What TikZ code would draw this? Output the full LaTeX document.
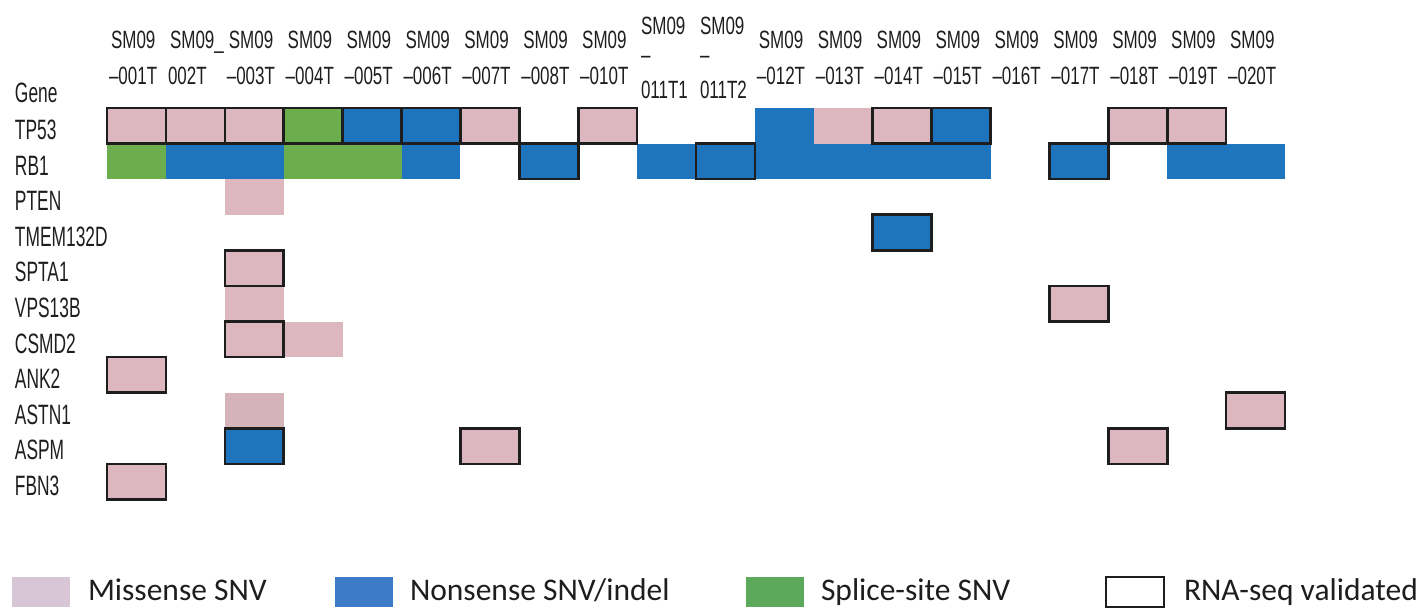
\documentclass[tikz,border=0pt]{standalone}
\usepackage{fontspec}
\setmainfont{Liberation Sans}
\newfontfamily\narrowfont[FakeStretch=0.68]{Liberation Sans}
\newfontfamily\labelfont[FakeStretch=0.62]{Liberation Sans}
\newfontfamily\legendfont{Carlito}
\definecolor{mis}{HTML}{DCB7C0}
\definecolor{nons}{HTML}{1E74BD}
\definecolor{spl}{HTML}{6CAE4E}
\definecolor{legmis}{HTML}{D8C6D6}
\definecolor{legnons}{HTML}{3B7BC8}
\definecolor{legspl}{HTML}{5DA95C}
\definecolor{ink}{HTML}{1E1E1E}

\begin{document}
\begin{tikzpicture}[x=1pt,y=-1pt,
  slot/.style 2 args={at={({77.55+58.9*#1},{90.2+35.6*#2})}}]
\tikzstyle{every node}=[inner sep=0pt,outer sep=0pt,text=ink]
\tikzstyle{cell}=[rectangle,minimum width=58.9pt,minimum height=35.6pt]
\tikzstyle{val}=[draw=ink,line width=2.6pt]
\tikzstyle{hd}=[anchor=base west,font=\narrowfont\fontsize{25}{30}\selectfont]
\tikzstyle{gl}=[anchor=base west,font=\labelfont\fontsize{28}{32}\selectfont]
\tikzstyle{legbox}=[rectangle,anchor=north west,minimum width=58pt,minimum height=30pt]
\tikzstyle{legtxt}=[anchor=base west,font=\legendfont\fontsize{31.5}{38}\selectfont]
\useasboundingbox (0,0) rectangle (1428,609);

% column headers
\foreach \c/\s in {1/–001T,3/–003T,4/–004T,5/–005T,6/–006T,7/–007T,8/–008T,9/–010T,
  12/–012T,13/–013T,14/–014T,15/–015T,16/–016T,17/–017T,18/–018T,19/–019T,20/–020T}{
  \node[hd] (top\c) at ({111+58.9*(\c-1)},48.5) {SM09};
  \node[hd] (bot\c) at ({109+58.9*(\c-1)},85) {\s};
}
\node[hd] (top2) at (170,48.5) {SM09\_};
\node[hd] (bot2) at (168,85) {002T};
\node[hd] (top10) at (641,35) {SM09};
\node[hd] (mid10) at (641,64) {–};
\node[hd] (bot10) at (641,99) {011T1};
\node[hd] (top11) at (700,35) {SM09};
\node[hd] (mid11) at (700,64) {–};
\node[hd] (bot11) at (700,99) {011T2};

% gene labels
\node[gl] (gene) at (15,103) {Gene};
\foreach \r/\g in {1/TP53,2/RB1,3/PTEN,4/TMEM132D,5/SPTA1,6/VPS13B,7/CSMD2,8/ANK2,9/ASTN1,10/ASPM,11/FBN3}
  \node[gl] (g\r) at (15,{108+35.6*\r-4}) {\g};

% mutations
\node[cell,fill=nons,slot={12}{1}] (tp53-12) {};
\node[cell,fill=mis,slot={13}{1}] (tp53-13) {};
\node[cell,fill=spl,slot={1}{2}] (rb1-1) {};
\node[cell,fill=nons,slot={2}{2}] (rb1-2) {};
\node[cell,fill=nons,slot={3}{2}] (rb1-3) {};
\node[cell,fill=spl,slot={4}{2}] (rb1-4) {};
\node[cell,fill=spl,slot={5}{2}] (rb1-5) {};
\node[cell,fill=nons,slot={6}{2}] (rb1-6) {};
\node[cell,fill=nons,slot={10}{2}] (rb1-10) {};
\node[cell,fill=nons,slot={12}{2}] (rb1-12) {};
\node[cell,fill=nons,slot={13}{2}] (rb1-13) {};
\node[cell,fill=nons,slot={14}{2}] (rb1-14) {};
\node[cell,fill=nons,slot={15}{2}] (rb1-15) {};
\node[cell,fill=nons,slot={19}{2}] (rb1-19) {};
\node[cell,fill=nons,slot={20}{2}] (rb1-20) {};
\node[cell,fill=mis,slot={3}{3}] (pten-3) {};
\node[cell,fill=mis,slot={3}{6}] (vps13b-3) {};
\node[cell,fill=mis,slot={4}{7}] (csmd2-4) {};
\node[cell,fill=mis!92!gray,slot={3}{9}] (astn1-3) {};

% validated by RNA-seq
\node[cell,val,fill=mis,slot={1}{1}] (tp53-1) {};
\node[cell,val,fill=mis,slot={2}{1}] (tp53-2) {};
\node[cell,val,fill=mis,slot={3}{1}] (tp53-3) {};
\node[cell,val,fill=spl,slot={4}{1}] (tp53-4) {};
\node[cell,val,fill=nons,slot={5}{1}] (tp53-5) {};
\node[cell,val,fill=nons,slot={6}{1}] (tp53-6) {};
\node[cell,val,fill=mis,slot={7}{1}] (tp53-7) {};
\node[cell,val,fill=mis,slot={9}{1}] (tp53-9) {};
\node[cell,val,fill=mis,slot={14}{1}] (tp53-14) {};
\node[cell,val,fill=nons,slot={15}{1}] (tp53-15) {};
\node[cell,val,fill=mis,slot={18}{1}] (tp53-18) {};
\node[cell,val,fill=mis,slot={19}{1}] (tp53-19) {};
\node[cell,val,fill=nons,slot={8}{2}] (rb1-8) {};
\node[cell,val,fill=nons,slot={11}{2}] (rb1-11) {};
\node[cell,val,fill=nons,slot={17}{2}] (rb1-17) {};
\node[cell,val,fill=nons,slot={14}{4}] (tmem-14) {};
\node[cell,val,fill=mis,slot={3}{5}] (spta1-3) {};
\node[cell,val,fill=mis,slot={17}{6}] (vps13b-17) {};
\node[cell,val,fill=mis,slot={3}{7}] (csmd2-3) {};
\node[cell,val,fill=mis,slot={1}{8}] (ank2-1) {};
\node[cell,val,fill=mis,slot={20}{9}] (astn1-20) {};
\node[cell,val,fill=nons,slot={3}{10}] (aspm-3) {};
\node[cell,val,fill=mis,slot={7}{10}] (aspm-7) {};
\node[cell,val,fill=mis,slot={18}{10}] (aspm-18) {};
\node[cell,val,fill=mis,slot={1}{11}] (fbn3-1) {};

% legend
\node[legbox,fill=legmis] (kmis) at (12,577) {};
\node[legtxt] (tmis) at (88,600) {Missense SNV};
\node[legbox,fill=legnons] (knons) at (335,577) {};
\node[legtxt] (tnons) at (410,600) {Nonsense SNV/indel};
\node[legbox,fill=legspl] (kspl) at (746,577) {};
\node[legtxt] (tspl) at (821,600) {Splice-site SNV};
\node[legbox,draw=ink,line width=1.6pt] (kval) at (1106,577) {};
\node[legtxt] (tval) at (1184,600) {RNA-seq validated};
\end{tikzpicture}
\end{document}
